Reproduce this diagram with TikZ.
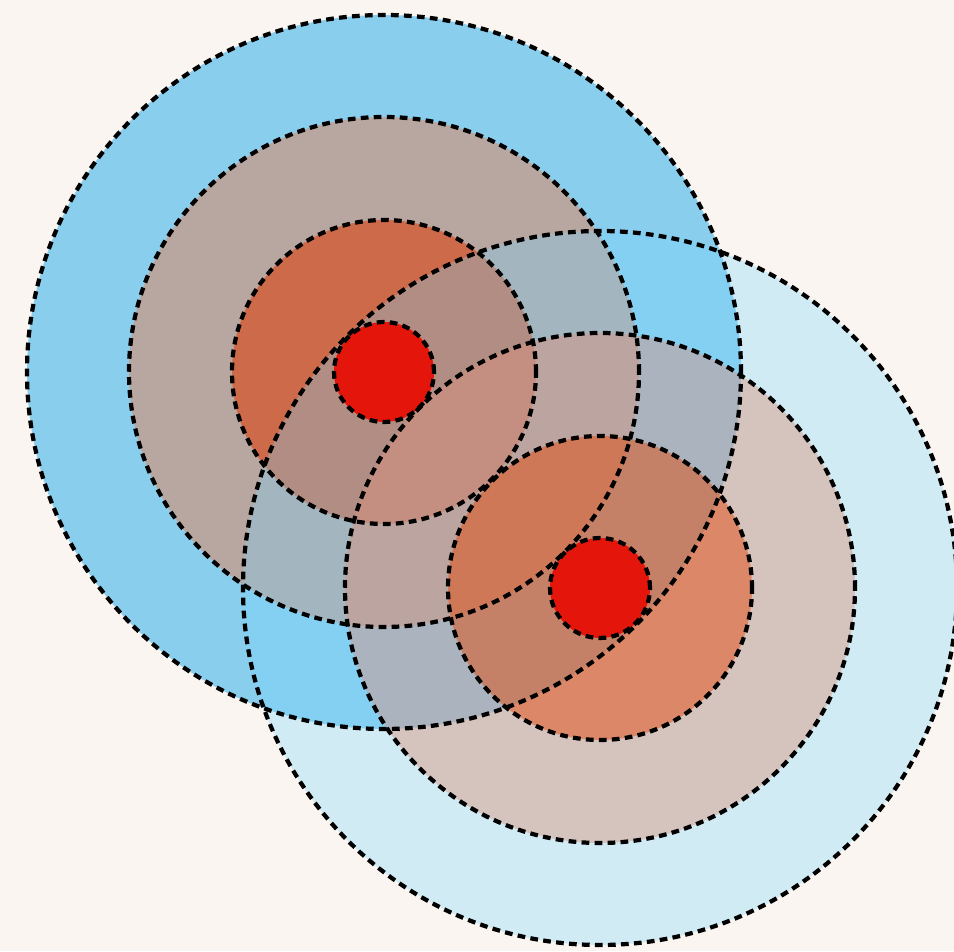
\documentclass[tikz,border=0pt]{standalone}
\usepackage{xcolor}
\usepackage{tikz}
\usetikzlibrary{calc}
\definecolor{paper}{RGB}{250,245,240}
\definecolor{leftblue}{RGB}{138,206,238}
\definecolor{leftring}{RGB}{184,166,160}
\definecolor{leftcore}{RGB}{205,106,74}
\definecolor{rightblue}{RGB}{120,215,255}
\definecolor{rightring}{RGB}{220,147,126}
\definecolor{rightcore}{RGB}{230,66,0}
\definecolor{spotred}{RGB}{228,22,11}

\begin{document}
\begin{tikzpicture}[
  ring/.style={draw=black, line width=2.4pt, dash pattern=on 4.4pt off 3pt},
  seethrough/.style={fill opacity=#1}]
\useasboundingbox (0,0) rectangle (19.08,19.02);
\fill[paper] (0,0) rectangle (19.08,19.02);
\coordinate (west) at (7.68,11.58);
\coordinate (east) at (12.0,7.26);
% left group
\fill[leftblue] (west) circle (7.14);
\fill[leftring] (west) circle (5.1);
\fill[leftcore] (west) circle (3.04);
% right group, laid over it
\fill[rightblue, seethrough=0.32] (east) circle (7.14);
\fill[rightring, seethrough=0.45] (east) circle (5.1);
\fill[rightcore, seethrough=0.45] (east) circle (3.04);
% centres
\fill[spotred] (west) circle (1.0);
\fill[spotred] (east) circle (1.0);
% outlines
\foreach \r in {7.14,5.1,3.04,1.0} {
  \draw[ring] (west) circle (\r);
  \draw[ring] (east) circle (\r);
}
\end{tikzpicture}
\end{document}
